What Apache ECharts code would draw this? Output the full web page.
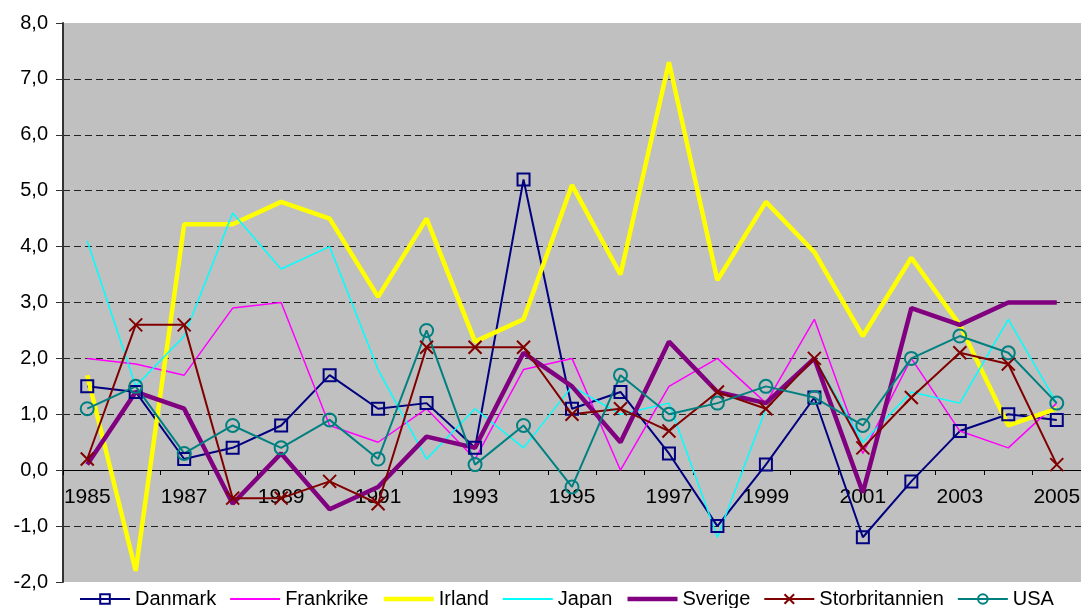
<!DOCTYPE html>
<html>
<head>
<meta charset="utf-8">
<script src="https://cdn.jsdelivr.net/npm/echarts@6/dist/echarts.min.js"></script>
<style>
  html, body { margin: 0; padding: 0; background: #fff; }
  #chart { width: 1081px; height: 608px; }
</style>
</head>
<body>
<div id="chart"></div>
<script>
const years = ['1985','1986','1987','1988','1989','1990','1991','1992','1993','1994','1995',
  '1996','1997','1998','1999','2000','2001','2002','2003','2004','2005'];

const danmark = [1.5,1.4,0.2,0.4,0.8,1.7,1.1,1.2,0.4,5.2,1.1,1.4,0.3,-1.0,0.1,1.3,-1.2,-0.2,0.7,1.0,0.9];
const frankrike = [2.0,1.9,1.7,2.9,3.0,0.8,0.5,1.1,0.2,1.8,2.0,0.0,1.5,2.0,1.2,2.7,0.3,2.0,0.7,0.4,1.2];
const irland = [1.7,-1.8,4.4,4.4,4.8,4.5,3.1,4.5,2.3,2.7,5.1,3.5,7.3,3.4,4.8,3.9,2.4,3.8,2.6,0.8,1.1];
const japan = [4.1,1.5,2.4,4.6,3.6,4.0,1.8,0.2,1.1,0.4,1.5,1.0,1.2,-1.2,1.1,2.0,0.5,1.4,1.2,2.7,1.2];
const sverige = [0.1,1.4,1.1,-0.6,0.3,-0.7,-0.3,0.6,0.4,2.1,1.5,0.5,2.3,1.4,1.2,2.0,-0.4,2.9,2.6,3.0,3.0];
const storbritannien = [0.2,2.6,2.6,-0.5,-0.5,-0.2,-0.6,2.2,2.2,2.2,1.0,1.1,0.7,1.4,1.1,2.0,0.4,1.3,2.1,1.9,0.1];
const usa = [1.1,1.5,0.3,0.8,0.4,0.9,0.2,2.5,0.1,0.8,-0.3,1.7,1.0,1.2,1.5,1.3,0.8,2.0,2.4,2.1,1.2];

const font = "'Liberation Sans', Arial, sans-serif";
const crossPath = 'path://M0,0L10,10M10,0L0,10';
const noMarker = { color: 'rgba(0,0,0,0)', borderColor: 'rgba(0,0,0,0)', borderWidth: 0 };

// one line series, optional hollow marker
function line(name, data, color, width, symbol, size) {
  return {
    name: name,
    type: 'line',
    xAxisIndex: 0,
    yAxisIndex: 0,
    data: data,
    symbol: symbol || 'none',
    symbolSize: size || 0,
    showAllSymbol: true,
    lineStyle: { color: color, width: width },
    itemStyle: { color: 'rgba(0,0,0,0)', borderColor: color, borderWidth: 2 },
    emphasis: { disabled: true }
  };
}

const chart = echarts.init(document.getElementById('chart'), null, { renderer: 'canvas' });
chart.setOption({
  animation: false,
  backgroundColor: '#fff',
  textStyle: { fontFamily: font },
  grid: [
    { // plot area
      left: 63, right: 0, top: 23, bottom: 26, outerBoundsMode: 'none',
      show: true, backgroundColor: '#C0C0C0', borderWidth: 0
    },
    { // carries the category axis along the zero line
      left: 63, right: 0, top: 23, height: 447, outerBoundsMode: 'none',
      show: false
    }
  ],
  legend: {
    left: 74, top: 584,
    itemWidth: 50, itemHeight: 12, itemGap: 13,
    textStyle: { fontSize: 20, color: '#000', fontFamily: font },
    data: [
      { name: 'Danmark', lineStyle: { width: 2 } },
      { name: 'Frankrike', itemStyle: noMarker, lineStyle: { width: 2 } },
      { name: 'Irland', itemStyle: noMarker, lineStyle: { width: 4.5 } },
      { name: 'Japan', itemStyle: noMarker, lineStyle: { width: 2 } },
      { name: 'Sverige', itemStyle: noMarker, lineStyle: { width: 4.5 } },
      { name: 'Storbritannien', lineStyle: { width: 2 } },
      { name: 'USA', lineStyle: { width: 2 } }
    ]
  },
  xAxis: [
    {
      gridIndex: 0, type: 'category', data: years, boundaryGap: true, show: false
    },
    {
      gridIndex: 1, type: 'category', data: years, boundaryGap: true,
      axisLine: { show: true, onZero: false, lineStyle: { color: '#000', width: 1 } },
      axisTick: { show: true, interval: 0, length: 5, lineStyle: { color: '#000' } },
      axisLabel: { interval: 1, fontSize: 21, color: '#000', margin: 17, fontFamily: font },
      splitLine: { show: false }
    }
  ],
  yAxis: [
    {
      gridIndex: 0, type: 'value',
      min: -2, max: 8, interval: 1,
      axisLine: { show: true, lineStyle: { color: '#333', width: 2 } },
      axisTick: { show: true, length: 7, lineStyle: { color: '#333', width: 1 } },
      axisLabel: {
        fontSize: 20, color: '#000', margin: 15, fontFamily: font,
        formatter: function (v) { return v.toFixed(1).replace('.', ','); }
      },
      splitLine: {
        show: true, showMinLine: false, showMaxLine: false,
        lineStyle: { color: '#222', width: 1, type: [7, 4] }
      }
    },
    {
      gridIndex: 1, type: 'value', min: 0, max: 1, show: false
    }
  ],
  series: [
    line('Danmark', danmark, '#000080', 2, 'rect', 12),
    line('Frankrike', frankrike, '#FF00FF', 1.5),
    line('Irland', irland, '#FFFF00', 4.5),
    line('Japan', japan, '#00FFFF', 1.5),
    line('Sverige', sverige, '#800080', 4.5),
    line('Storbritannien', storbritannien, '#800000', 2, crossPath, 13),
    line('USA', usa, '#008080', 2, 'circle', 13)
  ]
});
</script>
</body>
</html>
